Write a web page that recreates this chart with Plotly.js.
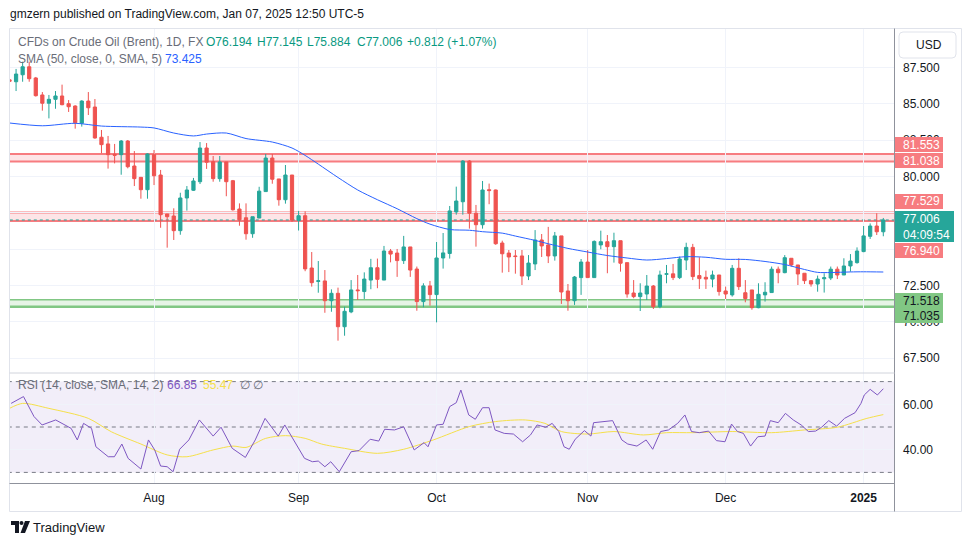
<!DOCTYPE html>
<html><head><meta charset="utf-8">
<script src="https://cdn.plot.ly/plotly-3.0.1.min.js"></script>
<style>html,body{margin:0;padding:0;background:#fff}#chart{width:970px;height:545px}</style>
</head><body><div id="chart"></div>
<script>
const W=970,H=545;
const FONT='"Liberation Sans", Arial, sans-serif';

// ---- OHLC (daily, Brent CFD, index 0 = 2 Jul 2024 ... 133 = 7 Jan 2025)
const open=[86.65,86.52,87.00,87.55,86.78,85.61,85.04,85.31,85.54,85.01,
84.85,83.66,85.19,84.78,82.70,82.24,81.53,81.50,82.44,80.72,
79.94,79.09,81.50,80.10,77.42,77.28,76.27,78.52,79.05,79.64,
81.96,81.02,79.85,81.00,79.71,77.76,77.16,76.06,77.14,78.96,
81.27,79.83,78.40,80.10,76.98,77.30,73.70,72.78,72.81,71.45,
71.96,69.66,70.68,72.19,72.08,72.87,73.72,72.87,74.87,74.73,
74.21,75.15,73.63,71.39,72.47,71.87,74.39,74.70,77.56,78.26,
81.06,77.47,76.68,79.09,79.07,75.42,74.73,74.53,74.53,73.15,
73.98,75.63,75.29,74.53,75.91,72.12,71.45,73.04,74.11,73.04,
75.29,75.51,75.17,75.58,74.07,71.98,71.73,71.91,72.46,71.04,
73.27,73.30,73.04,74.25,75.12,73.18,73.06,72.94,73.22,72.12,
71.85,73.68,72.00,72.19,70.97,71.85,72.01,73.62,73.38,74.37,
73.91,73.34,72.83,72.60,72.96,73.01,73.62,73.22,73.84,74.07,
74.83,75.88,76.59,76.194];
const high=[86.75,87.40,87.90,87.90,86.85,85.81,85.61,85.88,86.32,85.26,
84.90,85.25,85.81,85.33,83.20,82.79,82.24,82.51,82.51,81.75,
79.94,81.60,81.82,80.45,77.42,77.81,78.88,79.34,79.90,82.37,
82.30,81.41,81.41,81.00,79.76,78.15,78.15,77.23,79.29,81.55,
81.55,79.83,80.79,80.10,77.63,77.60,74.80,74.18,73.56,72.23,
72.35,71.04,72.87,73.22,73.40,74.33,74.35,75.22,75.01,75.01,
75.91,75.15,73.80,72.65,72.81,75.49,76.11,77.97,79.30,81.13,
81.13,78.04,79.69,79.51,79.10,75.58,74.94,74.94,74.94,74.59,
76.31,76.04,76.53,76.18,75.91,72.60,73.15,74.32,74.94,75.60,
76.27,75.97,76.13,75.58,74.07,72.87,72.65,73.22,72.53,73.52,
73.91,73.98,74.49,75.44,75.36,74.44,73.52,73.52,73.22,72.42,
73.91,74.37,72.87,72.19,72.65,72.72,73.80,73.80,74.59,74.37,
73.91,73.34,72.87,73.18,73.34,73.80,73.80,74.37,74.66,75.12,
76.59,76.77,77.47,77.145];
const low=[86.50,85.88,86.52,86.52,85.50,84.53,84.00,84.66,84.90,84.44,
83.29,83.43,84.23,82.60,81.60,80.54,80.90,80.12,80.56,79.34,
78.47,78.47,79.41,76.47,75.10,75.63,75.99,77.65,79.00,79.48,
80.52,79.64,79.64,78.64,77.65,76.61,75.65,75.78,77.14,78.96,
79.50,77.99,78.13,76.87,76.28,73.48,72.42,72.00,70.62,70.69,
68.70,69.04,70.59,71.50,71.57,72.24,72.31,72.87,74.09,73.09,
73.98,73.09,70.76,71.00,71.11,69.96,73.66,74.35,77.37,77.37,
76.41,75.17,76.41,78.09,75.30,73.38,73.42,73.31,72.53,72.87,
73.56,74.46,74.04,74.21,71.23,70.76,71.16,71.85,73.04,73.04,
74.99,73.34,74.07,73.45,71.66,71.62,70.74,71.50,70.88,70.93,
72.65,72.87,72.94,73.56,72.87,72.26,72.26,72.37,71.80,71.57,
71.73,72.19,71.34,70.83,70.93,71.39,72.01,72.65,73.34,73.80,
72.53,72.60,72.42,72.07,72.01,72.87,72.94,73.22,73.45,74.00,
74.79,75.70,75.97,75.884];
const close=[86.55,87.05,87.55,86.73,85.56,85.04,85.31,85.54,84.94,84.80,
83.70,85.19,84.73,82.65,82.19,81.50,81.46,82.44,80.67,79.85,
79.09,81.55,80.05,77.37,77.23,76.27,78.52,79.07,79.69,81.96,
80.98,79.85,81.00,79.64,77.71,77.02,76.06,77.23,78.99,81.27,
79.81,78.40,80.10,77.00,77.30,73.64,72.69,72.82,71.45,71.96,
69.66,70.72,72.19,72.14,72.94,73.72,72.92,74.87,74.66,74.21,
75.15,73.56,71.39,72.47,71.87,74.39,74.74,77.63,78.31,81.06,
77.47,76.68,79.07,79.03,75.37,74.68,74.46,74.49,73.15,74.04,
75.63,75.22,74.53,75.91,72.05,71.45,73.08,74.11,73.04,75.53,
75.51,75.17,75.58,74.03,71.91,71.73,71.98,72.46,71.04,73.22,
73.30,73.04,74.32,75.12,73.11,72.97,72.94,73.22,72.08,71.91,
73.68,72.42,71.60,70.97,71.89,72.03,73.62,73.38,74.41,73.91,
73.29,72.83,72.60,72.94,73.03,73.62,73.22,73.84,74.18,74.87,
75.91,76.59,76.194,77.006];
const barIdx=open.map((_,i)=>i);

// ---- SMA(50)
const smaIdx=[0,5,10,14,20,22,25,28,30,33,36,40,43,45,47,50,53,56,59,62,64,67,70,72,75,77,80,82,85,88,91,94,97,100,103,106,109,112,115,118,121,123,125,128,130,133];
const smaVal=[83.68,83.49,83.66,83.47,83.40,83.34,82.99,82.79,82.92,82.99,82.61,82.37,81.96,81.45,80.85,79.93,79.07,78.40,77.78,77.10,76.72,76.35,76.30,76.20,76.10,75.90,75.60,75.37,75.05,74.80,74.56,74.39,74.25,74.35,74.48,74.44,74.30,74.29,74.15,73.94,73.60,73.40,73.39,73.43,73.44,73.425];

// ---- RSI(14) and its SMA(14)
const rsiIdx=[0.25,2.13,3.73,4.96,7.03,8.44,9.38,10.32,11.27,12.49,13.15,15.03,15.97,17.1,18.05,20.0,21.15,22.1,23.0,24.0,24.9,25.9,27.3,28.9,31.0,32.2,33.9,35.9,37.4,38.9,40.9,41.9,43.3,44.9,46.1,47.0,48.0,48.9,50.2,52.0,53.2,54.9,56.2,57.1,58.6,60.0,61.6,63.1,63.7,65.0,66.0,67.0,68.0,68.7,69.9,70.9,72.0,73.0,73.9,75.3,76.7,78.1,79.3,80.3,81.6,82.6,83.6,84.4,85.2,86.1,87.5,88.5,88.9,90.1,91.8,93.2,94.1,95.5,96.9,97.9,99.1,100.3,101.7,102.8,103.8,105.0,106.4,107.6,108.9,109.9,110.8,111.7,112.8,113.9,115.0,115.8,117.0,118.1,119.3,120.5,121.6,122.7,123.6,124.7,125.9,127.1,128.7,129.6,130.1,131.0,132.1,133.0];
const rsiVal=[60.4,63.4,54.6,50.9,53.1,50.9,49.4,44.3,51.6,49.4,41.3,36.9,36.9,42.5,36.2,31.5,44.3,39.9,32.8,32.5,30.3,40.2,44.3,53.1,46.0,49.9,40.6,36.6,44.3,53.8,46.0,50.9,44.0,36.2,34.7,35.0,32.5,34.7,30.3,39.1,39.6,44.6,43.8,49.0,48.7,50.1,39.9,43.1,41.3,50.9,51.2,59.0,60.7,66.3,55.3,53.4,58.5,58.5,48.7,47.2,46.9,43.5,46.5,50.9,49.9,51.6,48.0,41.3,40.2,44.6,48.4,46.0,51.9,52.4,52.8,44.3,42.5,41.6,44.3,40.2,48.0,48.7,51.6,55.3,48.0,47.5,48.2,44.0,43.5,51.3,48.0,47.2,41.6,45.7,46.0,52.8,51.9,56.0,53.1,50.9,48.0,48.2,49.9,52.8,50.4,53.8,56.3,60.4,64.1,66.6,64.1,66.85];
const rsiMaIdx=[0,2,6,12,15.5,20,24,27,31,34,36,39,42,45,47.5,51,56,60,64.5,70,74,78.5,81.5,84,88,92,96.5,100,104,110,116,121,126,130.5,133];
const rsiMaVal=[58.2,60.4,58.2,53.8,47.9,42.5,37.7,36.9,39.9,41.6,41.0,45.0,46.2,45.0,42.5,40.6,38.4,40.2,44.3,50.2,52.4,53.1,51.6,48.0,46.9,48.0,46.5,47.5,47.5,48.0,47.5,48.7,49.9,53.8,55.47];

// ---- axis ticks / levels (77.500 and 75.000 sit fully under the price labels)
const monthTickIdx=[22,44,65,88,109,130];
const monthTickText=['Aug','Sep','Oct','Nov','Dec','<b>2025</b>'];
const priceTicks=[67.5,70,72.5,75,77.5,80,82.5,85,87.5];
const priceTickText=['67.500','70.000','72.500','','','80.000','82.500','85.000','87.500'];
const rsiTicks=[40,60];
const rsiTickText=['40.00','60.00'];
const redZones=[[81.038,81.553],[76.940,77.529]];
const greenZones=[[71.035,71.518]];
const lastPrice=77.006;
const rsiBands=[30,50,70];

// ---- geometry helpers (page pixels -> paper)
const P=x=>x/W, Q=y=>1-y/H;
const X0=10,X1=894, MAIN_TOP=29, MAIN_BOT=373, RSI_BOT=483;
const pxPerBar=6.57, bar0x=9.5;
const xr=[(X0-bar0x)/pxPerBar,(X1-bar0x)/pxPerBar];
const pxPerUnit=14.53, refY=67.5, refP=87.5;
const yr=[refP-(MAIN_BOT-refY)/pxPerUnit, refP+(refY-MAIN_TOP)/pxPerUnit];
const rsiPx=2.27, rsi50y=427;
const y2r=[50-(RSI_BOT-rsi50y)/rsiPx, 50+(rsi50y-MAIN_BOT)/rsiPx];

const UP='#26a69a', DN='#ef5350';
const traces=[
 {type:'candlestick',x:barIdx,open:open,high:high,low:low,close:close,xaxis:'x',yaxis:'y',
  increasing:{line:{color:UP,width:1},fillcolor:UP},decreasing:{line:{color:DN,width:1},fillcolor:DN},
  whiskerwidth:0,hoverinfo:'skip',showlegend:false},
 {type:'scatter',mode:'lines',x:smaIdx,y:smaVal,xaxis:'x',yaxis:'y',line:{color:'#2962ff',width:1,shape:'spline',smoothing:0.8},showlegend:false,hoverinfo:'skip'},
 {type:'scatter',mode:'lines',x:rsiMaIdx,y:rsiMaVal,xaxis:'x',yaxis:'y2',line:{color:'#f5e04a',width:1,shape:'spline',smoothing:0.8},showlegend:false,hoverinfo:'skip'},
 {type:'scatter',mode:'lines',x:rsiIdx,y:rsiVal,xaxis:'x',yaxis:'y2',line:{color:'#7e57c2',width:1},showlegend:false,hoverinfo:'skip'}
];

const shapes=[];
redZones.forEach(z=>{
  shapes.push({type:'rect',xref:'x',yref:'y',x0:-10,x1:150,y0:z[0],y1:z[1],fillcolor:'rgba(242,54,69,0.13)',line:{width:0},layer:'below'});
  z.forEach(v=>shapes.push({type:'line',xref:'x',yref:'y',x0:-10,x1:150,y0:v,y1:v,line:{color:'#f77c80',width:2},layer:'below'}));
});
greenZones.forEach(z=>{
  shapes.push({type:'rect',xref:'x',yref:'y',x0:-10,x1:150,y0:z[0],y1:z[1],fillcolor:'rgba(129,199,132,0.2)',line:{width:0},layer:'below'});
  shapes.push({type:'line',xref:'x',yref:'y',x0:-10,x1:150,y0:z[1],y1:z[1],line:{color:'#81c784',width:1.5},layer:'below'});
  shapes.push({type:'line',xref:'x',yref:'y',x0:-10,x1:150,y0:z[0],y1:z[0],line:{color:'#81c784',width:2.5},layer:'below'});
});
shapes.push({type:'line',xref:'x',yref:'y',x0:-10,x1:150,y0:lastPrice,y1:lastPrice,line:{color:UP,width:1,dash:'dot'},layer:'below'});
shapes.push({type:'rect',xref:'x',yref:'y2',x0:-10,x1:150,y0:30,y1:70,fillcolor:'rgba(126,87,194,0.1)',line:{width:0},layer:'below'});
rsiBands.forEach(v=>shapes.push({type:'line',xref:'x',yref:'y2',x0:-10,x1:150,y0:v,y1:v,line:{color:'#787b86',width:1,dash:'4px,4px'},layer:'below'}));
shapes.push({type:'rect',xref:'paper',yref:'paper',x0:P(9.5),x1:P(961.5),y0:Q(511.5),y1:Q(28.5),line:{color:'#e0e3eb',width:1}});
shapes.push({type:'line',xref:'paper',yref:'paper',x0:P(894.5),x1:P(894.5),y0:Q(511.5),y1:Q(28.5),line:{color:'#8f929c',width:1}});
shapes.push({type:'line',xref:'paper',yref:'paper',x0:P(9.5),x1:P(894.5),y0:Q(483.5),y1:Q(483.5),line:{color:'#8f929c',width:1}});
shapes.push({type:'line',xref:'paper',yref:'paper',x0:P(9.5),x1:P(894.5),y0:Q(373),y1:Q(373),line:{color:'#d1d4dc',width:1}});
function rrect(x0,y0,x1,y1,r){return `M${P(x0+r)},${Q(y0)} L${P(x1-r)},${Q(y0)} Q${P(x1)},${Q(y0)} ${P(x1)},${Q(y0+r)} L${P(x1)},${Q(y1-r)} Q${P(x1)},${Q(y1)} ${P(x1-r)},${Q(y1)} L${P(x0+r)},${Q(y1)} Q${P(x0)},${Q(y1)} ${P(x0)},${Q(y1-r)} L${P(x0)},${Q(y0+r)} Q${P(x0)},${Q(y0)} ${P(x0+r)},${Q(y0)} Z`;}
shapes.push({type:'path',xref:'paper',yref:'paper',path:rrect(899,32,956,58,4),line:{color:'#e0e3eb',width:1},fillcolor:'#ffffff'});

const labelBoxes=[
 {y0:137,y1:152,c:'#f77c80'},{y0:153,y1:168,c:'#f77c80'},
 {y0:194,y1:209,c:'#f77c80'},{y0:243,y1:258,c:'#f77c80'},
 {y0:293,y1:308,c:'#81c784'},{y0:308,y1:323,c:'#81c784'}];
labelBoxes.forEach(b=>shapes.push({type:'rect',xref:'paper',yref:'paper',x0:P(895),x1:P(943),y0:Q(b.y1),y1:Q(b.y0),fillcolor:b.c,line:{width:0}}));
shapes.push({type:'rect',xref:'paper',yref:'paper',x0:P(895),x1:P(954),y0:Q(242),y1:Q(211),fillcolor:'#26a69a',line:{width:0}});

shapes.push({type:'path',xref:'paper',yref:'paper',path:`M${P(11)},${Q(521)} L${P(19)},${Q(521)} L${P(19)},${Q(533)} L${P(15)},${Q(533)} L${P(15)},${Q(525)} L${P(11)},${Q(525)} Z`,fillcolor:'#131722',line:{width:0}});
shapes.push({type:'circle',xref:'paper',yref:'paper',x0:P(19.5),x1:P(23.5),y0:Q(525),y1:Q(521),fillcolor:'#131722',line:{width:0}});
shapes.push({type:'path',xref:'paper',yref:'paper',path:`M${P(25)},${Q(521)} L${P(30)},${Q(521)} L${P(25)},${Q(533)} L${P(20.5)},${Q(533)} Z`,fillcolor:'#131722',line:{width:0}});

function ann(x,y,text,size,color,extra){
  return Object.assign({xref:'paper',yref:'paper',x:P(x),y:Q(y),text:text,showarrow:false,xanchor:'left',yanchor:'middle',
    font:{family:FONT,size:size,color:color},borderpad:0},extra||{});
}
const annotations=[
 ann(9,14,'gmzern published on TradingView.com, Jan 07, 2025 12:50 UTC-5',12,'#131722'),
 ann(17,42,'CFDs on Crude Oil (Brent), 1D, FX',12,'#6a6d78'),
 ann(205,42,'O76.194',12,'#089981'),
 ann(256,42,'H77.145',12,'#089981'),
 ann(306,42,'L75.884',12,'#089981'),
 ann(356,42,'C77.006',12,'#089981'),
 ann(406,42,'+0.812 (+1.07%)',12,'#089981'),
 ann(17,59,'SMA (50, close, 0, SMA, 5)',12,'#6a6d78'),
 ann(164,59,'73.425',12,'#2962ff'),
 ann(17,385,'RSI (14, close, SMA, 14, 2)',12,'#6a6d78'),
 ann(166,385,'66.85',12,'#7e57c2'),
 ann(202,385,'55.47',12,'#f5e04a'),
 ann(239,385,'∅ ∅',12,'#6a6d78'),
 ann(915,45,'USD',12,'#131722'),
 ann(902,144.5,'81.553',12,'#ffffff'),
 ann(902,160.5,'81.038',12,'#ffffff'),
 ann(902,201.5,'77.529',12,'#ffffff'),
 ann(902,219,'77.006',12,'#ffffff'),
 ann(902,234.5,'04:09:54',12,'#ffffff'),
 ann(902,250.5,'76.940',12,'#ffffff'),
 ann(902,300.5,'71.518',12,'#131722'),
 ann(902,315.5,'71.035',12,'#131722'),
 ann(32,527,'TradingView',13,'#131722')
];

const layout={
  width:W,height:H,margin:{l:0,r:0,t:0,b:0},paper_bgcolor:'#fff',plot_bgcolor:'#fff',
  showlegend:false,dragmode:false,
  xaxis:{domain:[P(X0),P(X1)],range:xr,anchor:'y2',tickmode:'array',tickvals:monthTickIdx,ticktext:monthTickText,
    showgrid:true,gridcolor:'#f0f3fa',gridwidth:1,zeroline:false,showline:false,ticks:'',
    tickfont:{family:FONT,size:12,color:'#131722'},ticklabelstandoff:6,rangeslider:{visible:false},fixedrange:true},
  yaxis:{domain:[Q(MAIN_BOT),Q(MAIN_TOP)],range:yr,side:'right',anchor:'x',tickmode:'array',tickvals:priceTicks,ticktext:priceTickText,
    showgrid:true,gridcolor:'#f0f3fa',zeroline:false,showline:false,ticks:'',
    tickfont:{family:FONT,size:12,color:'#131722'},ticklabelstandoff:8,fixedrange:true},
  yaxis2:{domain:[Q(RSI_BOT),Q(MAIN_BOT)],range:y2r,side:'right',anchor:'x',tickmode:'array',tickvals:rsiTicks,ticktext:rsiTickText,
    showgrid:true,gridcolor:'#f0f3fa',zeroline:false,showline:false,ticks:'',
    tickfont:{family:FONT,size:12,color:'#131722'},ticklabelstandoff:8,fixedrange:true},
  shapes:shapes,annotations:annotations
};
Plotly.newPlot('chart',traces,layout,{staticPlot:true,displayModeBar:false});
</script></body></html>
